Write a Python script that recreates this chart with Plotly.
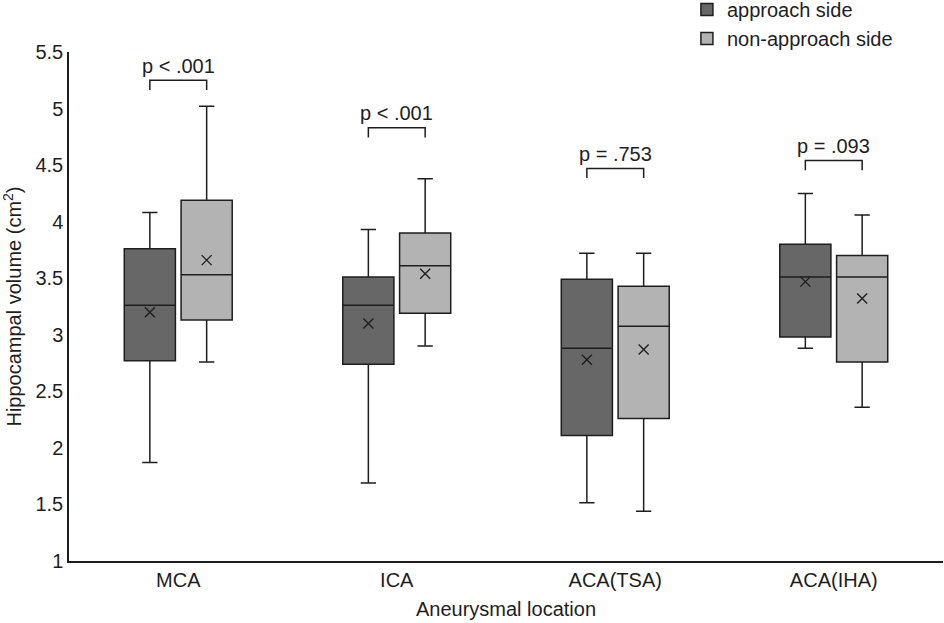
import plotly.graph_objects as go

categories = ["MCA", "ICA", "ACA(TSA)", "ACA(IHA)"]

# approach side
app_lower = [1.87, 1.69, 1.515, 2.88]
app_q1 = [2.77, 2.74, 2.11, 2.98]
app_median = [3.26, 3.26, 2.88, 3.51]
app_q3 = [3.76, 3.51, 3.49, 3.80]
app_upper = [4.08, 3.93, 3.72, 4.25]
app_mean = [3.20, 3.10, 2.78, 3.47]

# non-approach side
non_lower = [2.76, 2.90, 1.44, 2.36]
non_q1 = [3.13, 3.19, 2.26, 2.76]
non_median = [3.53, 3.61, 3.075, 3.51]
non_q3 = [4.19, 3.90, 3.43, 3.70]
non_upper = [5.02, 4.38, 3.72, 4.06]
non_mean = [3.66, 3.54, 2.87, 3.32]

p_labels = ["p < .001", "p < .001", "p = .753", "p = .093"]
bracket_y = [5.25, 4.83, 4.47, 4.54]

FONT = "Liberation Sans, Arial, sans-serif"
LINE = "#1e1e1e"
DARK = "#676767"
LIGHT = "#b3b3b3"
BOXGAP = 0.48
FS = 20

fig = go.Figure()
fig.add_trace(go.Box(
    name="approach side", x=categories, q1=app_q1, median=app_median, q3=app_q3,
    lowerfence=app_lower, upperfence=app_upper, offsetgroup="a",
    fillcolor=DARK, line=dict(color=LINE, width=1.5), whiskerwidth=0.3,
    boxpoints=False, hoverinfo="skip"))
fig.add_trace(go.Box(
    name="non-approach side", x=categories, q1=non_q1, median=non_median, q3=non_q3,
    lowerfence=non_lower, upperfence=non_upper, offsetgroup="b",
    fillcolor=LIGHT, line=dict(color=LINE, width=1.5), whiskerwidth=0.3,
    boxpoints=False, hoverinfo="skip"))
fig.add_trace(go.Scatter(
    x=categories, y=app_mean, mode="markers", offsetgroup="a", showlegend=False,
    marker=dict(symbol="x-thin", size=10, line=dict(color=LINE, width=1.4)), hoverinfo="skip"))
fig.add_trace(go.Scatter(
    x=categories, y=non_mean, mode="markers", offsetgroup="b", showlegend=False,
    marker=dict(symbol="x-thin", size=10, line=dict(color=LINE, width=1.4)), hoverinfo="skip"))

dx = (1 - BOXGAP) / 4
leg = 0.085
for i, (lab, yb) in enumerate(zip(p_labels, bracket_y)):
    x0, x1 = i - dx, i + dx
    fig.add_shape(type="path",
                  path=f"M {x0},{yb-leg} L {x0},{yb} L {x1},{yb} L {x1},{yb-leg}",
                  line=dict(color=LINE, width=1.5), xref="x", yref="y")
    fig.add_annotation(x=i, y=yb + 0.013, text=lab, showarrow=False, yanchor="bottom",
                       font=dict(family=FONT, size=FS, color="#1e1e1e"))

fig.update_layout(
    width=944, height=623,
    paper_bgcolor="white", plot_bgcolor="white",
    margin=dict(l=69, r=1, t=52, b=62, autoexpand=False),
    boxmode="group", boxgap=BOXGAP, boxgroupgap=0.1,
    scattermode="group", scattergap=BOXGAP,
    font=dict(family=FONT, size=FS, color="#1e1e1e"),
    showlegend=True,
    legend=dict(x=0.707, y=1.122, xanchor="left", yanchor="top",
                font=dict(family=FONT, size=FS, color="#1e1e1e"),
                bgcolor="rgba(0,0,0,0)", tracegroupgap=0),
    xaxis=dict(type="category", range=[-0.5, 3.5], showline=True, linecolor=LINE, linewidth=1.5,
               ticks="", showgrid=False, zeroline=False, automargin=False,
               tickfont=dict(size=FS),
               title=dict(text="Aneurysmal location", font=dict(size=FS), standoff=12)),
    yaxis=dict(range=[1, 5.5], dtick=0.5, showline=True, linecolor=LINE, linewidth=1.5,
               ticks="", showgrid=False, zeroline=False, tickformat="~g", automargin=False,
               tickfont=dict(size=FS),
               title=dict(text="Hippocampal volume (cm<sup>2</sup>)", font=dict(size=FS), standoff=8)),
)

fig.write_html("out.html", config={"displayModeBar": False},
               post_script="document.body.style.margin='0';")
